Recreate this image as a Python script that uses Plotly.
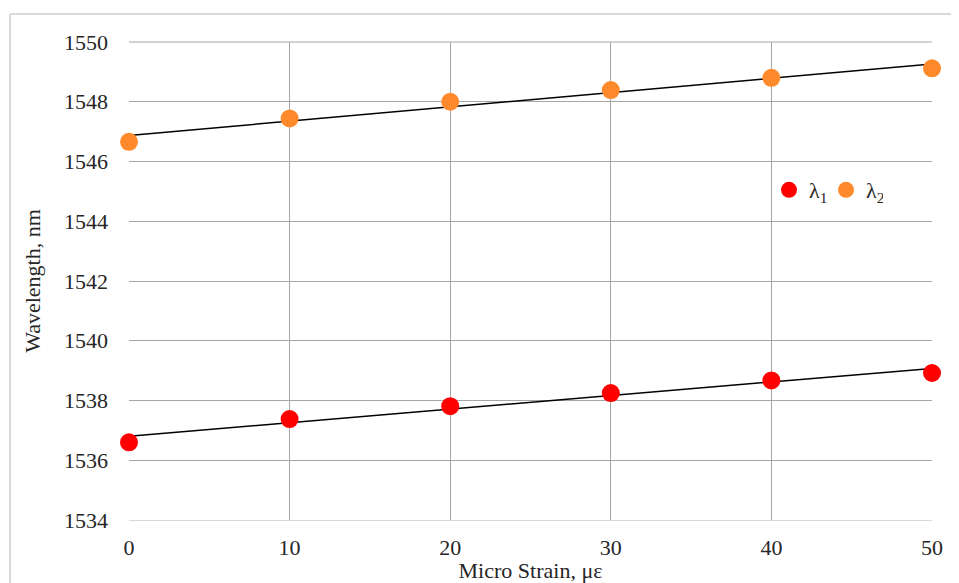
import numpy as np
import plotly.graph_objects as go

strain = [0, 10, 20, 30, 40, 50]
lambda1 = [1536.60, 1537.38, 1537.81, 1538.25, 1538.67, 1538.92]
lambda2 = [1546.66, 1547.44, 1548.00, 1548.39, 1548.80, 1549.12]
series_names = ["λ<sub>1</sub>", "λ<sub>2</sub>"]
series_colors = ["#FF0000", "#FF8A2B"]
y_ticks = [1534, 1536, 1538, 1540, 1542, 1544, 1546, 1548, 1550]
x_ticks = [0, 10, 20, 30, 40, 50]

FONT = "Liberation Serif"
OFF = 8  # page body margin
W, H = 959 - OFF, 583 - OFF
L, R, T, B = 129 - OFF, 27, 42 - OFF, 63

fig = go.Figure()
xs = np.array(strain, dtype=float)
for vals in (lambda1, lambda2):
    k, b = np.polyfit(xs, np.array(vals), 1)
    xl = np.array([xs.min(), xs.max()])
    fig.add_trace(go.Scatter(x=xl, y=k * xl + b, mode="lines",
                             line=dict(color="black", width=1.5),
                             showlegend=False, hoverinfo="skip", cliponaxis=False))

for name, vals, col in zip(series_names, (lambda1, lambda2), series_colors):
    fig.add_trace(go.Scatter(x=strain, y=vals, mode="markers", name=name,
                             marker=dict(color=col, size=18, line=dict(width=0)),
                             cliponaxis=False))

pw = W - L - R
ph = H - T - B
def px_x(p):
    return (p - OFF - L) / pw
def px_y(p):
    return (H - B - (p - OFF)) / ph

fig.update_layout(
    width=W, height=H,
    margin=dict(l=L, r=R, t=T, b=B, pad=0, autoexpand=False),
    paper_bgcolor="white", plot_bgcolor="white",
    font=dict(family=FONT, size=22, color="#262626"),
    showlegend=True,
    legend=dict(orientation="h", x=px_x(769), y=px_y(190), xanchor="left", yanchor="middle",
                bgcolor="rgba(0,0,0,0)", font=dict(family=FONT, size=22, color="#262626"),
                itemsizing="trace", entrywidth=12, tracegroupgap=0),
    xaxis=dict(range=[0, 50], tickvals=x_ticks, showgrid=True, gridcolor="#A6A6A6", gridwidth=1,
               zeroline=False, showline=True, linecolor="#D9D9D9", linewidth=1,
               ticks="", ticklabelstandoff=8, automargin=False,
               tickfont=dict(family=FONT, size=22, color="#262626"),
               title=dict(text="Micro Strain, με", standoff=0,
                          font=dict(family=FONT, size=22, color="#262626"))),
    yaxis=dict(range=[1534, 1550], tickvals=y_ticks, showgrid=True, gridcolor="#A6A6A6", gridwidth=1,
               zeroline=False, showline=False, ticks="", ticklabelstandoff=20, automargin=False,
               tickfont=dict(family=FONT, size=22, color="#262626"),
               title=dict(text="Wavelength, nm", standoff=17,
                          font=dict(family=FONT, size=22, color="#262626"))),
    shapes=[
        dict(type="line", xref="paper", yref="paper", x0=px_x(10), x1=px_x(970),
             y0=px_y(14), y1=px_y(14), line=dict(color="#D9D9D9", width=2)),
        dict(type="line", xref="paper", yref="paper", x0=px_x(10), x1=px_x(10),
             y0=px_y(14), y1=px_y(600), line=dict(color="#D9D9D9", width=2)),
        dict(type="line", xref="paper", yref="paper", x0=0, x1=1, y0=1, y1=1,
             line=dict(color="#A6A6A6", width=1), layer="below"),
    ],
)

fig.write_html("out.html")
